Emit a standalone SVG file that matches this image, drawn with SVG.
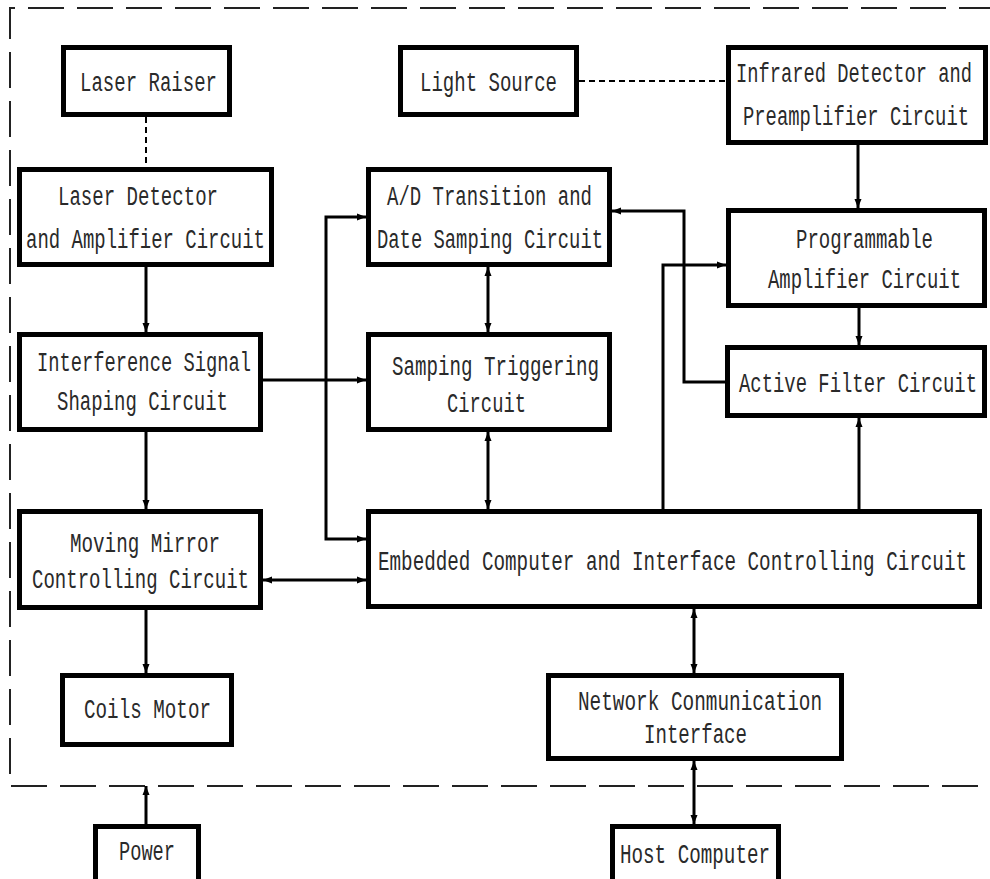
<svg xmlns="http://www.w3.org/2000/svg" width="990" height="879" viewBox="0 0 990 879">
<style>
.box{fill:#fff;stroke:#000;stroke-width:5}
.t{font-family:"Liberation Mono","DejaVu Sans Mono",monospace;font-size:19px;fill:#2a2a2a}
.c{fill:none;stroke:#000;stroke-width:3}
.d{fill:none;stroke:#000;stroke-width:2;stroke-dasharray:6 4}
.border{fill:none;stroke:#222;stroke-width:2;stroke-dasharray:36 13}
</style>
<defs>
<marker id="a" markerUnits="userSpaceOnUse" markerWidth="10" markerHeight="8" refX="9" refY="4" orient="auto-start-reverse">
<path d="M0,0.5 L9,4 L0,7.5 z" fill="#000"/>
</marker>
</defs>
<rect width="990" height="879" fill="#fff"/>
<path class="border" d="M995,8 H10 V786 H995"/>
<g id="connectors">
<path class="d" d="M146,117 V167"/>
<path class="d" d="M579,81 H726"/>
<path class="c" d="M146,267 V332" marker-end="url(#a)"/>
<path class="c" d="M146,432 V509" marker-end="url(#a)"/>
<path class="c" d="M146,610 V673" marker-end="url(#a)"/>
<path class="c" d="M263,380 H366" marker-end="url(#a)"/>
<path class="c" d="M366,217 H326 V539 H366" marker-start="url(#a)" marker-end="url(#a)"/>
<path class="c" d="M488,267 V332" marker-start="url(#a)" marker-end="url(#a)"/>
<path class="c" d="M488,432 V509" marker-start="url(#a)" marker-end="url(#a)"/>
<path class="c" d="M263,580 H366" marker-start="url(#a)" marker-end="url(#a)"/>
<path class="c" d="M858,145 V208" marker-end="url(#a)"/>
<path class="c" d="M859,308 V345" marker-end="url(#a)"/>
<path class="c" d="M859,509 V418" marker-end="url(#a)"/>
<path class="c" d="M663,509 V265 H726" marker-end="url(#a)"/>
<path class="c" d="M725,382 H684 V211 H612" marker-end="url(#a)"/>
<path class="c" d="M694,609 V673" marker-start="url(#a)" marker-end="url(#a)"/>
<path class="c" d="M694,761 V824" marker-start="url(#a)" marker-end="url(#a)"/>
<path class="c" d="M146,824 V786" marker-end="url(#a)"/>
</g>
<g id="laser-raiser"><rect class="box" x="63.5" y="47.5" width="166" height="67"/>
<text class="t" transform="translate(80,91) scale(1,1.42)" textLength="137" lengthAdjust="spacingAndGlyphs">Laser Raiser</text></g>
<g id="light-source"><rect class="box" x="400.5" y="47.5" width="176" height="67"/>
<text class="t" transform="translate(420,91) scale(1,1.42)" textLength="137" lengthAdjust="spacingAndGlyphs">Light Source</text></g>
<g id="infrared"><rect class="box" x="728.5" y="47.5" width="257" height="95"/>
<text class="t" transform="translate(736,82) scale(1,1.42)" textLength="236" lengthAdjust="spacingAndGlyphs">Infrared Detector and</text>
<text class="t" transform="translate(743,125) scale(1,1.42)" textLength="226" lengthAdjust="spacingAndGlyphs">Preamplifier Circuit</text></g>
<g id="laser-detector"><rect class="box" x="19.5" y="169.5" width="252" height="95"/>
<text class="t" transform="translate(58,205) scale(1,1.42)" textLength="160" lengthAdjust="spacingAndGlyphs">Laser Detector</text>
<text class="t" transform="translate(26,248) scale(1,1.42)" textLength="239" lengthAdjust="spacingAndGlyphs">and Amplifier Circuit</text></g>
<g id="ad"><rect class="box" x="368.5" y="169.5" width="241" height="95"/>
<text class="t" transform="translate(387,205) scale(1,1.42)" textLength="205" lengthAdjust="spacingAndGlyphs">A/D Transition and</text>
<text class="t" transform="translate(377,248) scale(1,1.42)" textLength="226" lengthAdjust="spacingAndGlyphs">Date Samping Circuit</text></g>
<g id="programmable"><rect class="box" x="728.5" y="210.5" width="256" height="95"/>
<text class="t" transform="translate(796,248) scale(1,1.42)" textLength="137" lengthAdjust="spacingAndGlyphs">Programmable</text>
<text class="t" transform="translate(768,288) scale(1,1.42)" textLength="193" lengthAdjust="spacingAndGlyphs">Amplifier Circuit</text></g>
<g id="interference"><rect class="box" x="19.5" y="334.5" width="241" height="95"/>
<text class="t" transform="translate(37,371) scale(1,1.42)" textLength="214" lengthAdjust="spacingAndGlyphs">Interference Signal</text>
<text class="t" transform="translate(57,410) scale(1,1.42)" textLength="171" lengthAdjust="spacingAndGlyphs">Shaping Circuit</text></g>
<g id="samping"><rect class="box" x="368.5" y="334.5" width="241" height="95"/>
<text class="t" transform="translate(392,375) scale(1,1.42)" textLength="207" lengthAdjust="spacingAndGlyphs">Samping Triggering</text>
<text class="t" transform="translate(447,412) scale(1,1.42)" textLength="79" lengthAdjust="spacingAndGlyphs">Circuit</text></g>
<g id="active-filter"><rect class="box" x="727.5" y="347.5" width="257" height="68"/>
<text class="t" transform="translate(739,392) scale(1,1.42)" textLength="238" lengthAdjust="spacingAndGlyphs">Active Filter Circuit</text></g>
<g id="moving-mirror"><rect class="box" x="19.5" y="511.5" width="241" height="96"/>
<text class="t" transform="translate(70,552) scale(1,1.42)" textLength="150" lengthAdjust="spacingAndGlyphs">Moving Mirror</text>
<text class="t" transform="translate(32,588) scale(1,1.42)" textLength="217" lengthAdjust="spacingAndGlyphs">Controlling Circuit</text></g>
<g id="embedded"><rect class="box" x="368.5" y="511.5" width="611" height="95"/>
<text class="t" transform="translate(378,570) scale(1,1.42)" textLength="589" lengthAdjust="spacingAndGlyphs">Embedded Computer and Interface Controlling Circuit</text></g>
<g id="coils-motor"><rect class="box" x="62.5" y="675.5" width="169" height="69"/>
<text class="t" transform="translate(84,718) scale(1,1.42)" textLength="127" lengthAdjust="spacingAndGlyphs">Coils Motor</text></g>
<g id="network"><rect class="box" x="548.5" y="675.5" width="293" height="83"/>
<text class="t" transform="translate(578,710) scale(1,1.42)" textLength="244" lengthAdjust="spacingAndGlyphs">Network Conmunication</text>
<text class="t" transform="translate(644,743) scale(1,1.42)" textLength="103" lengthAdjust="spacingAndGlyphs">Interface</text></g>
<g id="power"><rect class="box" x="95.5" y="826.5" width="103" height="60"/>
<text class="t" transform="translate(119,860) scale(1,1.42)" textLength="56" lengthAdjust="spacingAndGlyphs">Power</text></g>
<g id="host"><rect class="box" x="612.5" y="826.5" width="166" height="60"/>
<text class="t" transform="translate(620,863) scale(1,1.42)" textLength="150" lengthAdjust="spacingAndGlyphs">Host Computer</text></g>
</svg>
